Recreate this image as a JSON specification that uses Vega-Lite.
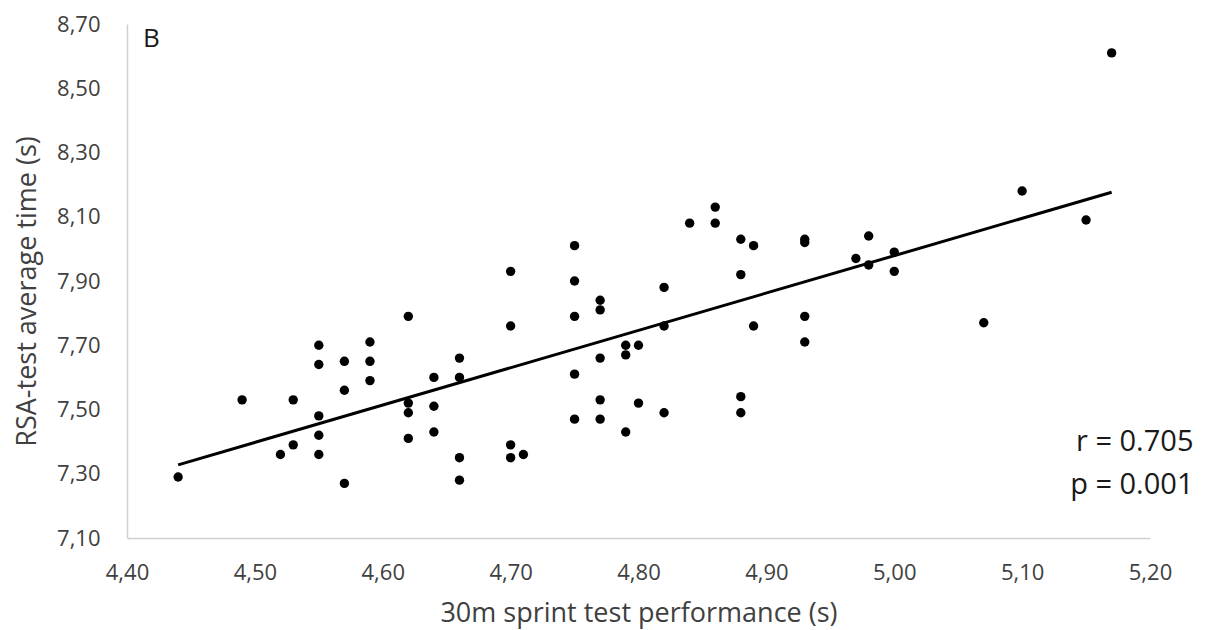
{
  "$schema": "https://vega.github.io/schema/vega-lite/v6.json",
  "width": 1023,
  "height": 514,
  "autosize": "none",
  "padding": {"left": 127, "top": 24, "right": 60, "bottom": 92},
  "background": "white",
  "config": {"view": {"stroke": null}, "font": "Open Sans"},
  "data": {"values": [
    {"sprint": 4.44, "rsa": 7.29}, {"sprint": 4.49, "rsa": 7.53}, {"sprint": 4.52, "rsa": 7.36},
    {"sprint": 4.53, "rsa": 7.53}, {"sprint": 4.53, "rsa": 7.39}, {"sprint": 4.55, "rsa": 7.70},
    {"sprint": 4.55, "rsa": 7.64}, {"sprint": 4.55, "rsa": 7.48}, {"sprint": 4.55, "rsa": 7.42},
    {"sprint": 4.55, "rsa": 7.36}, {"sprint": 4.57, "rsa": 7.65}, {"sprint": 4.57, "rsa": 7.56},
    {"sprint": 4.57, "rsa": 7.27}, {"sprint": 4.59, "rsa": 7.71}, {"sprint": 4.59, "rsa": 7.65},
    {"sprint": 4.59, "rsa": 7.59}, {"sprint": 4.62, "rsa": 7.79}, {"sprint": 4.62, "rsa": 7.52},
    {"sprint": 4.62, "rsa": 7.49}, {"sprint": 4.62, "rsa": 7.41}, {"sprint": 4.64, "rsa": 7.60},
    {"sprint": 4.64, "rsa": 7.51}, {"sprint": 4.64, "rsa": 7.43}, {"sprint": 4.66, "rsa": 7.66},
    {"sprint": 4.66, "rsa": 7.60}, {"sprint": 4.66, "rsa": 7.35}, {"sprint": 4.66, "rsa": 7.28},
    {"sprint": 4.70, "rsa": 7.93}, {"sprint": 4.70, "rsa": 7.76}, {"sprint": 4.70, "rsa": 7.39},
    {"sprint": 4.70, "rsa": 7.35}, {"sprint": 4.71, "rsa": 7.36}, {"sprint": 4.75, "rsa": 8.01},
    {"sprint": 4.75, "rsa": 7.90}, {"sprint": 4.75, "rsa": 7.79}, {"sprint": 4.75, "rsa": 7.61},
    {"sprint": 4.75, "rsa": 7.47}, {"sprint": 4.77, "rsa": 7.84}, {"sprint": 4.77, "rsa": 7.81},
    {"sprint": 4.77, "rsa": 7.66}, {"sprint": 4.77, "rsa": 7.53}, {"sprint": 4.77, "rsa": 7.47},
    {"sprint": 4.79, "rsa": 7.70}, {"sprint": 4.79, "rsa": 7.67}, {"sprint": 4.79, "rsa": 7.43},
    {"sprint": 4.80, "rsa": 7.70}, {"sprint": 4.80, "rsa": 7.52}, {"sprint": 4.82, "rsa": 7.88},
    {"sprint": 4.82, "rsa": 7.76}, {"sprint": 4.82, "rsa": 7.49}, {"sprint": 4.84, "rsa": 8.08},
    {"sprint": 4.86, "rsa": 8.13}, {"sprint": 4.86, "rsa": 8.08}, {"sprint": 4.88, "rsa": 8.03},
    {"sprint": 4.88, "rsa": 7.92}, {"sprint": 4.88, "rsa": 7.54}, {"sprint": 4.88, "rsa": 7.49},
    {"sprint": 4.89, "rsa": 8.01}, {"sprint": 4.89, "rsa": 7.76}, {"sprint": 4.93, "rsa": 8.03},
    {"sprint": 4.93, "rsa": 8.02}, {"sprint": 4.93, "rsa": 7.79}, {"sprint": 4.93, "rsa": 7.71},
    {"sprint": 4.97, "rsa": 7.97}, {"sprint": 4.98, "rsa": 8.04}, {"sprint": 4.98, "rsa": 7.95},
    {"sprint": 5.00, "rsa": 7.99}, {"sprint": 5.00, "rsa": 7.93}, {"sprint": 5.07, "rsa": 7.77},
    {"sprint": 5.10, "rsa": 8.18}, {"sprint": 5.15, "rsa": 8.09}, {"sprint": 5.17, "rsa": 8.61}
  ]},
  "layer": [
    {
      "mark": {"type": "circle", "color": "black", "size": 88, "opacity": 1},
      "encoding": {
        "x": {
          "field": "sprint", "type": "quantitative",
          "scale": {"domain": [4.4, 5.2], "nice": false, "zero": false},
          "axis": {
            "title": "30m sprint test performance (s)",
            "values": [4.4, 4.5, 4.6, 4.7, 4.8, 4.9, 5.0, 5.1, 5.2],
            "labelExpr": "replace(format(datum.value, '.2f'), '.', ',')",
            "grid": false, "ticks": false, "tickSize": 0,
            "domainColor": "#d0d0d0", "domainWidth": 1.5,
            "labelFontSize": 22, "labelColor": "#404040", "labelPadding": 24,
            "labelFlush": false, "labelOverlap": false,
            "titleFontSize": 27, "titleFontWeight": "normal", "titleColor": "#404040",
            "titleBaseline": "middle", "titleY": 75
          }
        },
        "y": {
          "field": "rsa", "type": "quantitative",
          "scale": {"domain": [7.1, 8.7], "nice": false, "zero": false},
          "axis": {
            "title": "RSA-test average time (s)",
            "values": [7.1, 7.3, 7.5, 7.7, 7.9, 8.1, 8.3, 8.5, 8.7],
            "labelExpr": "replace(format(datum.value, '.2f'), '.', ',')",
            "grid": false, "ticks": false, "tickSize": 0,
            "domainColor": "#d0d0d0", "domainWidth": 1.5,
            "labelFontSize": 22, "labelColor": "#404040", "labelPadding": 27,
            "labelFlush": false, "labelOverlap": false,
            "titleFontSize": 27, "titleFontWeight": "normal", "titleColor": "#404040",
            "titleBaseline": "middle", "titleX": -100, "titleY": 267
          }
        }
      }
    },
    {
      "transform": [{"regression": "rsa", "on": "sprint", "extent": [4.44, 5.17]}],
      "mark": {"type": "line", "color": "black", "strokeWidth": 3},
      "encoding": {
        "x": {"field": "sprint", "type": "quantitative"},
        "y": {"field": "rsa", "type": "quantitative"}
      }
    },
    {
      "data": {"values": [{"label": "B"}]},
      "mark": {"type": "text", "align": "left", "baseline": "middle", "fontSize": 26, "color": "#1a1a1a", "font": "Open Sans"},
      "encoding": {
        "text": {"field": "label"},
        "x": {"datum": 4.4125, "type": "quantitative"},
        "y": {"datum": 8.653, "type": "quantitative"}
      }
    },
    {
      "data": {"values": [{"label": "r = 0.705"}]},
      "mark": {"type": "text", "align": "right", "baseline": "middle", "fontSize": 29, "color": "#1a1a1a", "font": "Open Sans", "clip": false},
      "encoding": {
        "text": {"field": "label"},
        "x": {"datum": 5.234, "type": "quantitative"},
        "y": {"datum": 7.398, "type": "quantitative"}
      }
    },
    {
      "data": {"values": [{"label": "p = 0.001"}]},
      "mark": {"type": "text", "align": "right", "baseline": "middle", "fontSize": 29, "color": "#1a1a1a", "font": "Open Sans", "clip": false},
      "encoding": {
        "text": {"field": "label"},
        "x": {"datum": 5.234, "type": "quantitative"},
        "y": {"datum": 7.265, "type": "quantitative"}
      }
    }
  ]
}
